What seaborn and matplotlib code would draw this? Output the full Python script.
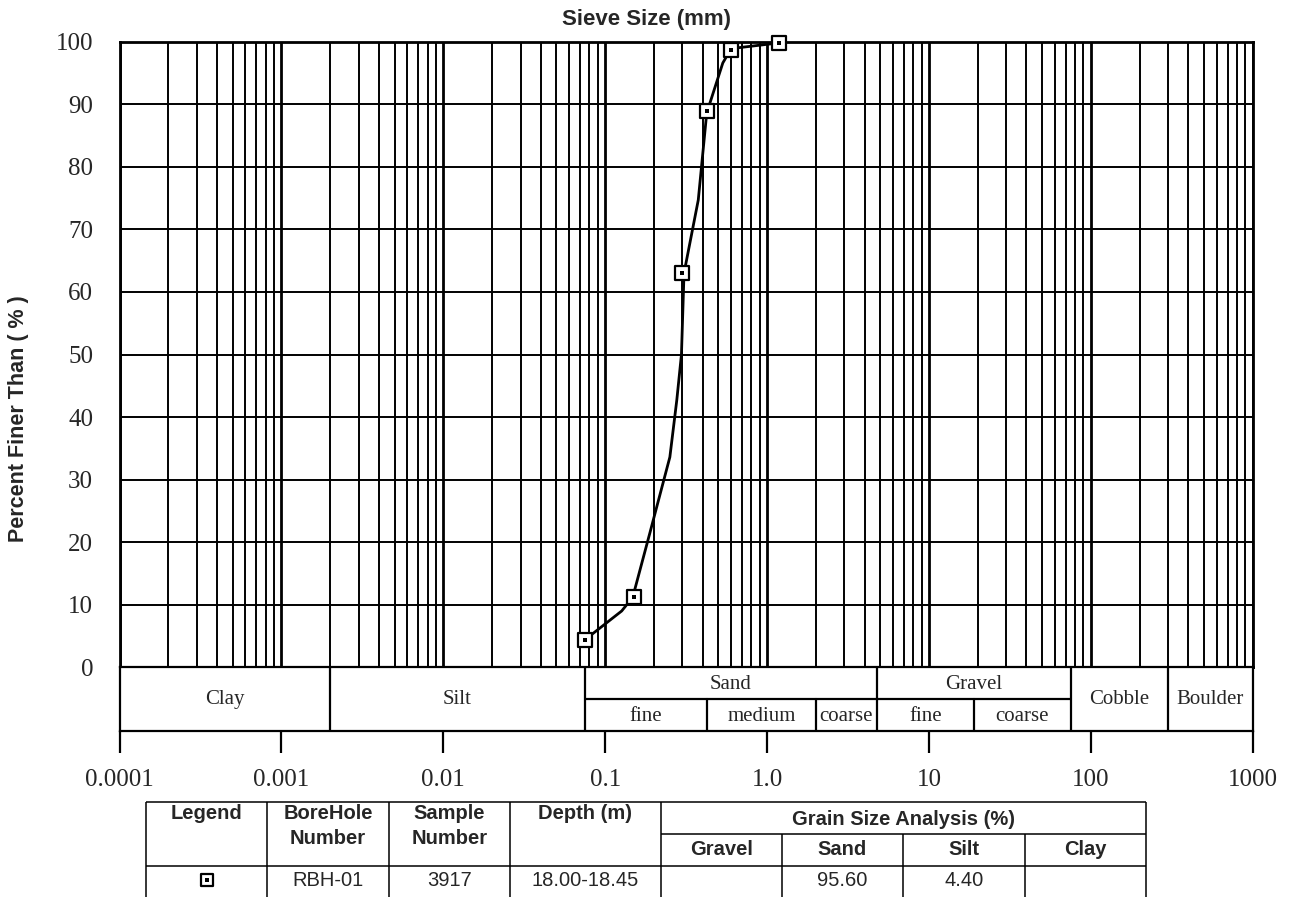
import numpy as np
import pandas as pd
import matplotlib
matplotlib.use("Agg")
import matplotlib.pyplot as plt
import seaborn as sns
from matplotlib.ticker import LogLocator, NullFormatter, NullLocator

# ---------------- data ----------------
sieve_mm = [0.075, 0.15, 0.30, 0.425, 0.60, 1.18]
percent_finer = [4.4, 11.2, 63.0, 88.9, 98.6, 99.8]

curve_mm = [0.075, 0.1265, 0.148, 0.189, 0.251, 0.277, 0.296, 0.307, 0.376, 0.424, 0.533, 0.60, 1.18]
curve_pct = [4.4, 9.0, 11.2, 21.5, 33.6, 42.7, 50.0, 63.0, 74.7, 88.6, 96.6, 98.9, 99.8]

y_ticks = [0, 10, 20, 30, 40, 50, 60, 70, 80, 90, 100]
x_ticks = [0.0001, 0.001, 0.01, 0.1, 1.0, 10, 100, 1000]
x_tick_labels = ["0.0001", "0.001", "0.01", "0.1", "1.0", "10", "100", "1000"]

band_labels = ["Clay", "Silt", "Sand", "Gravel", "Cobble", "Boulder"]
band_edges = [0.0001, 0.002, 0.075, 4.75, 75, 300, 1000]
split_bands = ["Sand", "Gravel"]
sub_labels = ["fine", "medium", "coarse", "fine", "coarse"]
sub_edges = [0.075, 0.425, 2.0, 4.75, 19.0, 75.0]

table_headers = ["Legend", "BoreHole\nNumber", "Sample\nNumber", "Depth (m)"]
grain_header = "Grain Size Analysis (%)"
grain_cols = ["Gravel", "Sand", "Silt", "Clay"]
row_borehole = "RBH-01"
row_sample = "3917"
row_depth = "18.00-18.45"
row_grain = ["", "95.60", "4.40", ""]

# ---------------- style ----------------
sns.set_style("white")
plt.rcParams["font.family"] = ["Liberation Sans", "DejaVu Sans"]
SERIF = ["Liberation Serif", "DejaVu Serif"]

W, H = 1294, 897
fig = plt.figure(figsize=(W / 100, H / 100), dpi=100)
fig.patch.set_facecolor("white")


def fx(px):
    return px / W


def fy(py):
    return 1 - py / H


L, R, T, B = 119.5, 1252.7, 41.7, 667.3
BB = 730.7

# ---------------- main axes ----------------
ax = fig.add_axes([fx(L), fy(B), (R - L) / W, (B - T) / H])
ax.set_xscale("log")
ax.set_xlim(1e-4, 1e3)
ax.set_ylim(0, 100)
ax.set_axisbelow(True)

df_curve = pd.DataFrame({"mm": curve_mm, "pct": curve_pct})
df_pts = pd.DataFrame({"mm": sieve_mm, "pct": percent_finer})

sns.lineplot(data=df_curve, x="mm", y="pct", sort=False, color="black",
             linewidth=2.0, ax=ax, zorder=4)
sns.scatterplot(data=df_pts, x="mm", y="pct", marker="s", s=110,
                color="white", edgecolor="black", linewidth=1.6,
                ax=ax, zorder=5, clip_on=False)
sns.scatterplot(data=df_pts, x="mm", y="pct", marker="s", s=7,
                color="black", edgecolor="black", linewidth=0,
                ax=ax, zorder=6, clip_on=False)

ax.xaxis.set_major_locator(LogLocator(base=10, numticks=20))
ax.xaxis.set_minor_locator(LogLocator(base=10, subs=np.arange(2, 10), numticks=200))
ax.xaxis.set_minor_formatter(NullFormatter())
ax.xaxis.set_major_formatter(NullFormatter())
ax.tick_params(axis="x", which="both", length=0, labelbottom=False)
ax.set_yticks(y_ticks, labels=[str(v) for v in y_ticks], fontfamily=SERIF, fontsize=18)
ax.tick_params(axis="y", length=0, pad=19)
ax.grid(which="major", axis="x", color="black", linewidth=2.0)
ax.grid(which="minor", axis="x", color="black", linewidth=1.4)
ax.grid(which="major", axis="y", color="black", linewidth=1.4)
ax.set_xlabel(None)
ax.set_ylabel(None)
for s in ax.spines.values():
    s.set_visible(True)
    s.set_linewidth(2.0)
    s.set_color("black")

fig.text(fx(647), fy(20), "Sieve Size (mm)", ha="center", va="center",
         fontsize=16, fontweight="bold")
fig.text(fx(19), fy(419), "Percent Finer Than ( % )", ha="center", va="center",
         rotation=90, fontsize=15.5, fontweight="bold")

# ---------------- classification band ----------------
axb = fig.add_axes([fx(L), fy(BB), (R - L) / W, (BB - B) / H])
axb.set_xscale("log")
axb.set_xlim(1e-4, 1e3)
axb.set_ylim(0, 2)
axb.yaxis.set_major_locator(NullLocator())
axb.xaxis.set_minor_locator(NullLocator())
axb.set_xticks(x_ticks, labels=x_tick_labels, fontfamily=SERIF, fontsize=18)
axb.tick_params(axis="x", which="major", bottom=True, direction="out",
                length=16, width=1.6, pad=11.5, color="black")
for s in axb.spines.values():
    s.set_visible(True)
    s.set_linewidth(1.6)
    s.set_color("black")

for e in band_edges[1:-1]:
    axb.axvline(e, 0, 1, color="black", lw=1.6)
for e in sub_edges[1:-1]:
    if e not in band_edges:
        axb.axvline(e, 0, 0.5, color="black", lw=1.6)
axb.hlines(1, sub_edges[0], sub_edges[-1], color="black", lw=1.6)

for lab, a, b in zip(band_labels, band_edges[:-1], band_edges[1:]):
    xm = np.sqrt(a * b)
    ym = 1.45 if lab in split_bands else 1.0
    axb.text(xm, ym, lab, ha="center", va="center", fontfamily=SERIF, fontsize=15)
for lab, a, b in zip(sub_labels, sub_edges[:-1], sub_edges[1:]):
    axb.text(np.sqrt(a * b), 0.45, lab, ha="center", va="center",
             fontfamily=SERIF, fontsize=15)

# ---------------- summary table ----------------
axt = fig.add_axes([0, 0, 1, fy(790)])
axt.set_xlim(0, W)
axt.set_ylim(H, 790)
axt.axis("off")

cols = [146, 267, 389, 510, 661, 782, 903, 1025, 1146]
r_top, r_mid, r_hdr, r_bot = 802, 834, 866, 900
lw_t = 1.1
axt.hlines(r_top, cols[0], cols[-1], color="black", lw=lw_t)
axt.hlines(r_mid, cols[4], cols[-1], color="black", lw=lw_t)
axt.hlines(r_hdr, cols[0], cols[-1], color="black", lw=lw_t)
for i, c in enumerate(cols):
    top = r_mid if 4 < i < len(cols) - 1 else r_top
    axt.vlines(c, top, r_bot, color="black", lw=lw_t, clip_on=False)

FS = 14.5
for i, h in enumerate(table_headers):
    xc = (cols[i] + cols[i + 1]) / 2
    for j, part in enumerate(h.split("\n")):
        axt.text(xc, 813 + 25 * j, part, ha="center", va="center",
                 fontsize=FS, fontweight="bold")
axt.text((cols[4] + cols[-1]) / 2, 819, grain_header, ha="center", va="center",
         fontsize=FS, fontweight="bold")
for i, g in enumerate(grain_cols):
    axt.text((cols[4 + i] + cols[5 + i]) / 2, 849, g, ha="center", va="center",
             fontsize=FS, fontweight="bold")

row_vals = [row_borehole, row_sample, row_depth] + row_grain
for i, v in enumerate(row_vals):
    if v:
        axt.text((cols[1 + i] + cols[2 + i]) / 2, 880, v, ha="center", va="center",
                 fontsize=FS)
lx = (cols[0] + cols[1]) / 2
axt.scatter([lx], [880], marker="s", s=70, color="white", edgecolor="black",
            linewidth=1.6, zorder=5)
axt.scatter([lx], [880], marker="s", s=6, color="black", linewidth=0, zorder=6)

fig.savefig("out.png", dpi=100, facecolor="white")
